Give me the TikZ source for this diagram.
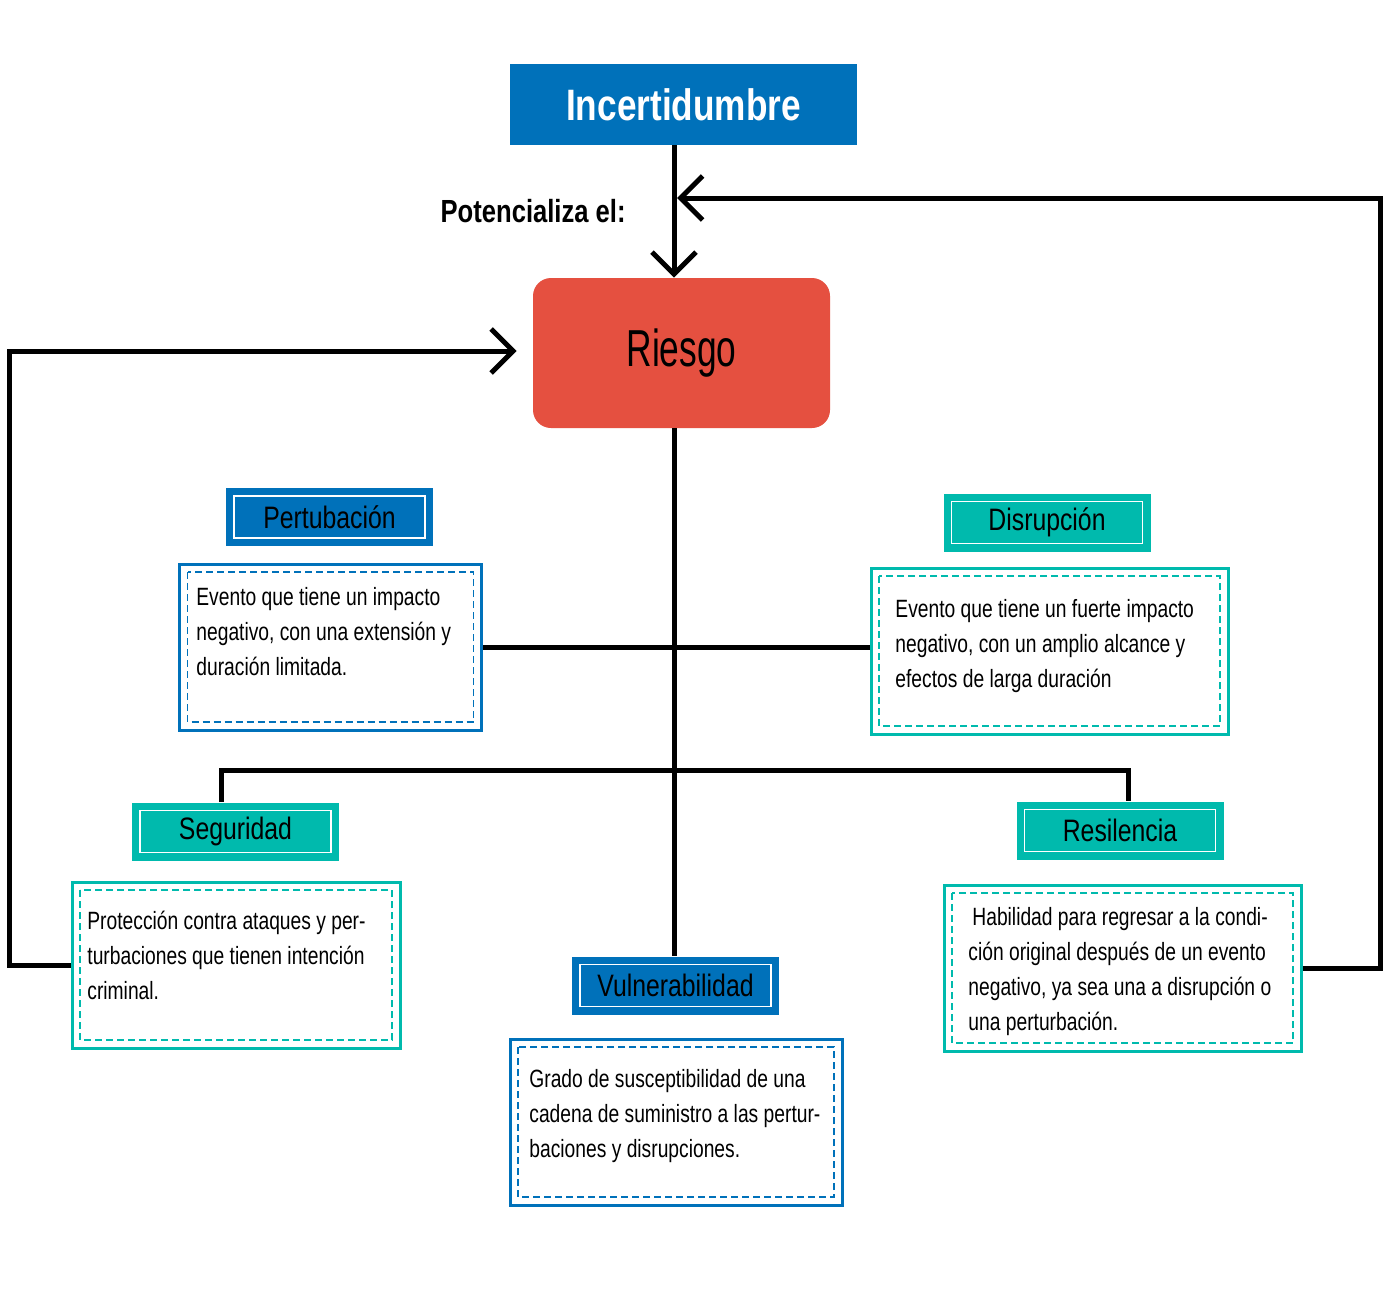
\documentclass[tikz,border=0pt]{standalone}
\usepackage{fontspec}
\setmainfont[FakeStretch=0.8]{Liberation Sans}
\newfontfamily\descfont[FakeStretch=0.77]{Liberation Sans}
\newfontfamily\riesgofont[FakeStretch=0.68]{Liberation Sans}
\usetikzlibrary{arrows.meta}
\definecolor{cblue}{HTML}{0071BA}
\definecolor{cteal}{HTML}{00BAAD}
\definecolor{cred}{HTML}{E55040}
\newcommand{\firstline}{\rule{0pt}{12.5pt}}
\begin{document}
\begin{tikzpicture}[x=0.5pt,y=-0.5pt,
  conn/.style={line width=2.5pt,black},
  barbtip/.style={-{Straight Barb[length=11pt,width=22pt]}},
  labelbox/.style={fill=#1,minimum width=103.5pt,minimum height=29pt,inner sep=0pt,
    font=\fontsize{15.5}{18}\selectfont,text=black,
    path picture={\draw[white,line width=0.8pt]
      ([shift={(4pt,-4pt)}]path picture bounding box.north west) rectangle
      ([shift={(-4pt,4pt)}]path picture bounding box.south east);}},
  descbox/.style={draw=#1,fill=white,line width=1.5pt,inner sep=0pt,minimum height=83pt,
    path picture={\draw[#1,line width=0.7pt,dash pattern=on 3.5pt off 2pt]
      ([shift={(4pt,-4pt)}]path picture bounding box.north west) rectangle
      ([shift={(-4pt,4pt)}]path picture bounding box.south east);}},
  desctext/.style={anchor=north west,align=left,inner sep=0pt,
    font=\descfont\fontsize{12.5}{17.5}\selectfont}]
\useasboundingbox[fill=white] (0,0) rectangle (1400,1290);

% main nodes
\node[fill=cblue,minimum width=173.5pt,minimum height=40.5pt,inner sep=0pt,
  text=white,font=\bfseries\fontsize{22}{26}\selectfont] (inc) at (683.5,104.5) {Incertidumbre};
\node[fill=cred,rounded corners=9pt,minimum width=148.5pt,minimum height=75pt,inner sep=0pt,
  font=\riesgofont\fontsize{26}{30}\selectfont] (riesgo) at (681.5,353) {Riesgo};
\node[anchor=base east,inner sep=0pt,font=\bfseries\fontsize{16}{18}\selectfont] (pot) at (626,222) {Potencializa el:};

% label boxes
\node[labelbox=cblue] (pert) at (329.5,517) {Pertubación};
\node[labelbox=cteal] (dis) at (1047,522.5) {Disrupción};
\node[labelbox=cteal] (seg) at (235.5,831.5) {Seguridad};
\node[labelbox=cteal] (res) at (1120,830.5) {Resilencia};
\node[labelbox=cblue] (vul) at (675.5,985.5) {Vulnerabilidad};

% description boxes
\node[descbox=cblue,minimum width=151pt] (pertdesc) at (330.5,647) {};
\node[descbox=cteal,minimum width=178.5pt] (disdesc) at (1049.5,651) {};
\node[descbox=cteal,minimum width=164pt] (segdesc) at (236,965) {};
\node[descbox=cteal,minimum width=178.5pt] (resdesc) at (1122.5,968) {};
\node[descbox=cblue,minimum width=166pt] (vuldesc) at (676,1122) {};

% description texts (node top = first baseline + 25px)
\node[desctext] (perttxt) at (196,580) {\firstline Evento que tiene un impacto\\negativo, con una extensión y\\duración limitada.};
\node[desctext] (distxt) at (895,592) {\firstline Evento que tiene un fuerte impacto\\negativo, con un amplio alcance y\\efectos de larga duración};
\node[desctext] (segtxt) at (87,904) {\firstline Protección contra ataques y per-\\turbaciones que tienen intención\\criminal.};
\node[desctext] (restxt) at (968,900) {\firstline\hspace{2pt}Habilidad para regresar a la condi-\\ción original después de un evento\\negativo, ya sea una a disrupción o\\una perturbación.};
\node[desctext] (vultxt) at (529,1062) {\firstline Grado de susceptibilidad de una\\cadena de suministro a las pertur-\\baciones y disrupciones.};

% coordinates for connector routing
\coordinate (trunk) at (674,0);
\coordinate (fb) at (1380,198);
\coordinate (lb) at (9,351);
\coordinate (bl) at (221,770);
\coordinate (br) at (1128,770);

% connectors
\draw[conn,barbtip] (inc.south -| trunk) -- (riesgo.north -| trunk);
\draw[conn,barbtip,shorten >=1.5pt] (resdesc.east) -| (fb) -- (fb -| trunk);
\draw[conn,barbtip,shorten >=8pt] (segdesc.west) -| (lb) -- (lb -| riesgo.west);
\draw[conn] (riesgo.south -| trunk) -- (vul.north -| trunk);
\draw[conn] (pertdesc.east) -- (pertdesc.east -| disdesc.west);
\draw[conn] (seg.north -| bl) -- (bl) -- (br) -- (res.north -| br);
\end{tikzpicture}
\end{document}
